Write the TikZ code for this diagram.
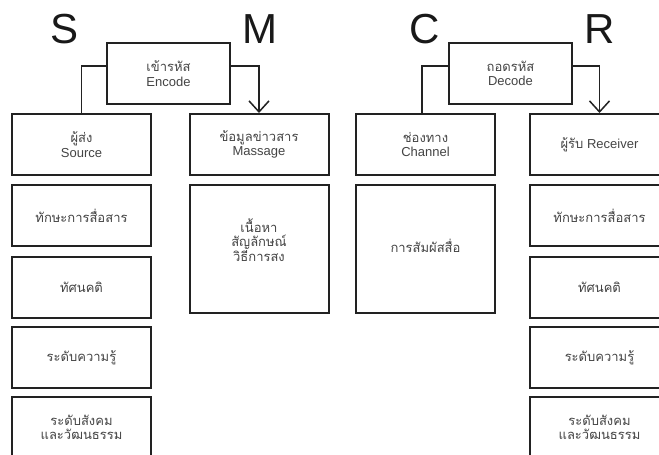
\documentclass[tikz,border=0pt]{standalone}
\usepackage{fontspec}
\setmainfont{Liberation Sans}
\newfontfamily\thaifont[Script=Thai]{Loma}
\usetikzlibrary{arrows.meta}
\definecolor{boxline}{HTML}{222222}
\definecolor{boxtext}{HTML}{444444}
\begin{document}
\begin{tikzpicture}[x=1pt,y=-1pt,
  boxfont/.style={align=center, text=boxtext, font=\fontsize{13}{14.5}\selectfont},
  box/.style={draw=boxline, line width=2pt, fill=white, inner sep=0pt,
    minimum width=139pt, minimum height=61pt, boxfont},
  tallbox/.style={box, minimum height=128pt},
  codebox/.style={box, minimum width=123pt},
  bigletter/.style={font=\fontsize{42}{42}\selectfont, text=black!90, inner sep=0pt},
  link/.style={draw=boxline, line width=1.5pt},
  arrowlink/.style={link, -{Straight Barb[length=11pt,width=20pt,line width=1.5pt]}}
]
\useasboundingbox (0,0) rectangle (659,455);
\clip (0,0) rectangle (659,455);
\fill[white] (0,0) rectangle (659,455);

% S, M, C, R headings
\node[bigletter] (lS) at (65,29) {S};
\node[bigletter] (lM) at (260,29) {M};
\node[bigletter] (lC) at (425,29) {C};
\node[bigletter] (lR) at (600,29) {R};

% encoding / decoding boxes
\node[codebox] (enc) at (168.5,73.5) {{\thaifont เข้ารหัส}\\Encode};
\node[codebox] (dec) at (510.5,73.5) {{\thaifont ถอดรหัส}\\Decode};

% Source column
\node[box] (src)  at (81.5,144.5) {{\thaifont ผู้ส่ง}\\Source};
\node[box] (src2) at (81.5,215.5) {\thaifont ทักษะการสื่อสาร};
\node[box] (src3) at (81.5,287)   {\thaifont ทัศนคติ};
\node[box] (src4) at (81.5,357.5) {\thaifont ระดับความรู้};
\node[box] (src5) at (81.5,427.5) {\thaifont ระดับสังคม\\\thaifont และวัฒนธรรม};

% Message column
\node[box] (msg)  at (259,144.5) {{\thaifont ข้อมูลข่าวสาร}\\Massage};
\node[tallbox, label={[boxfont, yshift=9pt]center:\thaifont เนื้อหา\\\thaifont สัญลักษณ์\\\thaifont วิธีการสง}] (msg2) at (259,249) {};

% Channel column
\node[box] (chn)  at (425.5,144.5) {{\thaifont ช่องทาง}\\Channel};
\node[tallbox, label={[boxfont, yshift=3pt]center:\thaifont การสัมผัสสื่อ}] (chn2) at (425.5,249) {};

% Receiver column
\node[box] (rcv)  at (599.5,144.5) {{\thaifont ผู้รับ} Receiver};
\node[box] (rcv2) at (599.5,215.5) {\thaifont ทักษะการสื่อสาร};
\node[box] (rcv3) at (599.5,287)   {\thaifont ทัศนคติ};
\node[box] (rcv4) at (599.5,357.5) {\thaifont ระดับความรู้};
\node[box] (rcv5) at (599.5,427.5) {\thaifont ระดับสังคม\\\thaifont และวัฒนธรรม};

% connectors
\draw[link] ([yshift=7.5pt]enc.west) -| (src.north);
\draw[arrowlink] ([yshift=7.5pt]enc.east) -| (msg.north);
\draw[link] ([yshift=7.5pt]dec.west) -| ([xshift=-3.5pt]chn.north);
\draw[arrowlink] ([yshift=7.5pt]dec.east) -| (rcv.north);
\end{tikzpicture}
\end{document}
